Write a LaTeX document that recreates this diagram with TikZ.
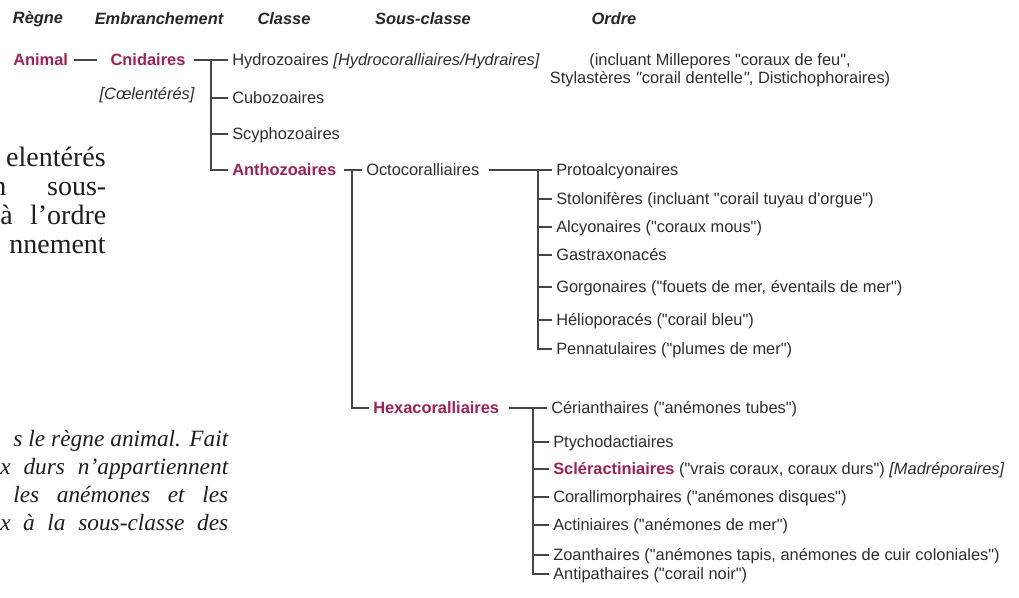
\documentclass[tikz,border=0pt]{standalone}
\usepackage{fontspec}
\setmainfont{Liberation Serif}
\newfontfamily\arialf{Liberation Sans}
\definecolor{mag}{RGB}{160,32,86}
\definecolor{txt}{RGB}{45,45,45}
\definecolor{lnc}{RGB}{70,70,70}
\definecolor{pg}{RGB}{30,30,30}
\begin{document}
\begin{tikzpicture}[x=0.75pt,y=-0.75pt,
  t/.style={font=\arialf\fontsize{12.3}{14}\selectfont, text=txt, inner xsep=3pt, inner ysep=0pt, text height=8.8pt, text depth=0pt, anchor=west},
  mg/.style={t, text=mag, font=\arialf\bfseries\fontsize{12.3}{14}\selectfont},
  hd/.style={font=\arialf\bfseries\itshape\fontsize{12.3}{14}\selectfont, text=black!85, inner sep=0pt},
  ln/.style={draw=lnc, line width=0.9pt},
  pt/.style={font=\fontsize{21}{25}\selectfont, text=pg, inner sep=0pt},
  pi/.style={font=\itshape\fontsize{17.5}{21}\selectfont, text=pg, inner sep=0pt, anchor=base west}]
\useasboundingbox (0,0) rectangle (1019,598);
\clip (0,0) rectangle (1019,598);

% headers
\node[hd] (hR) at (38,19) {Règne};
\node[hd] (hE) at (159,19) {Embranchement};
\node[hd] (hC) at (284,19) {Classe};
\node[hd] (hS) at (423,19) {Sous-classe};
\node[hd] (hO) at (614,19) {Ordre};

% page text (left)
\node[pt, anchor=base east] (p1) at (106,167) {elentérés};
\node[pt, anchor=base west] (p2) at (-8,196) {\makebox[85.5pt][s]{n sous-}};
\node[pt, anchor=base west] (p3) at (0,225) {\makebox[79.5pt][s]{à l'ordre}};
\node[pt, anchor=base east] (p4) at (106,253) {nnement};

\node[pi] (b1) at (13,446) {\makebox[161.25pt][s]{s le règne animal. Fait}};
\node[pi] (b2) at (0,474) {\makebox[171pt][s]{x durs n’appartiennent}};
\node[pi] (b3) at (13,502) {\makebox[161.25pt][s]{les anémones et les}};
\node[pi] (b4) at (0,530) {\makebox[171pt][s]{x à la sous-classe des}};

% tree
\node[mg] (animal) at (9,60) {Animal};
\node[mg, anchor=center] (cnid) at (148,60) {Cnidaires};
\node[t, anchor=center, font=\arialf\itshape\fontsize{12.3}{14}\selectfont] (coel) at (147,94) {[Cœlentérés]};
\draw[ln] ([xshift=1.5pt]animal.east) -- ([xshift=-7pt]cnid.west);

\coordinate (j1) at (211,60);
\node[t] (hydro) at (228,60) {Hydrozoaires \textit{[Hydrocoralliaires/Hydraires]}};
\node[t] (cubo) at (228,98) {Cubozoaires};
\node[t] (scy) at (228,134) {Scyphozoaires};
\node[mg] (antho) at (228,170) {Anthozoaires};
\draw[ln] ([xshift=3pt]cnid.east) -- (hydro.west);
\draw[ln] (j1) |- (antho.west);
\draw[ln] (j1 |- cubo.west) -- (cubo.west);
\draw[ln] (j1 |- scy.west) -- (scy.west);

\node[t, anchor=center] (incl1) at (720,60) {(incluant Millepores "coraux de feu",};
\node[t, anchor=base] (incl2) at ([yshift=-13.5pt]incl1.base) {Stylastères \textit{"}corail dentelle\textit{"}, Distichophoraires)};

\coordinate (j2) at (352,170);
\node[t] (octo) at (362,170) {Octocoralliaires};
\node[mg] (hexa) at (369,408) {Hexacoralliaires};
\draw[ln] ([xshift=3pt]antho.east) -- (octo.west);
\draw[ln] (j2) |- (hexa.west);

\coordinate (j3) at (538,170);
\node[t] (o1) at (552,170) {Protoalcyonaires};
\node[t] (o2) at (552,199) {Stolonifères (incluant "corail tuyau d'orgue")};
\node[t] (o3) at (552,227) {Alcyonaires ("coraux mous")};
\node[t] (o4) at (552,255) {Gastraxonacés};
\node[t] (o5) at (552,287) {Gorgonaires ("fouets de mer, éventails de mer")};
\node[t] (o6) at (552,320) {Hélioporacés ("corail bleu")};
\node[t] (o7) at (552,349) {Pennatulaires ("plumes de mer")};
\draw[ln] ([xshift=4pt]octo.east) -- (o1.west);
\draw[ln] (j3) |- (o7.west);
\foreach \n in {o2,o3,o4,o5,o6} \draw[ln] (j3 |- \n.west) -- (\n.west);

\coordinate (j4) at (533,408);
\node[t] (h1) at (547,408) {Cérianthaires ("anémones tubes")};
\node[t] (h2) at (549,442) {Ptychodactiaires};
\node[t] (h3) at (549,469) {\textcolor{mag}{\bfseries Scléractiniaires} ("vrais coraux, coraux durs") \textit{[Madréporaires]}};
\node[t] (h4) at (549,497) {Corallimorphaires ("anémones disques")};
\node[t] (h5) at (549,525) {Actiniaires ("anémones de mer")};
\node[t] (h6) at (549,555) {Zoanthaires ("anémones tapis, anémones de cuir coloniales")};
\node[t] (h7) at (549,574) {Antipathaires ("corail noir")};
\draw[ln] ([xshift=4pt]hexa.east) -- (h1.west);
\draw[ln] (j4) |- (h7.west);
\foreach \n in {h2,h3,h4,h5,h6} \draw[ln] (j4 |- \n.west) -- (\n.west);
\end{tikzpicture}
\end{document}
